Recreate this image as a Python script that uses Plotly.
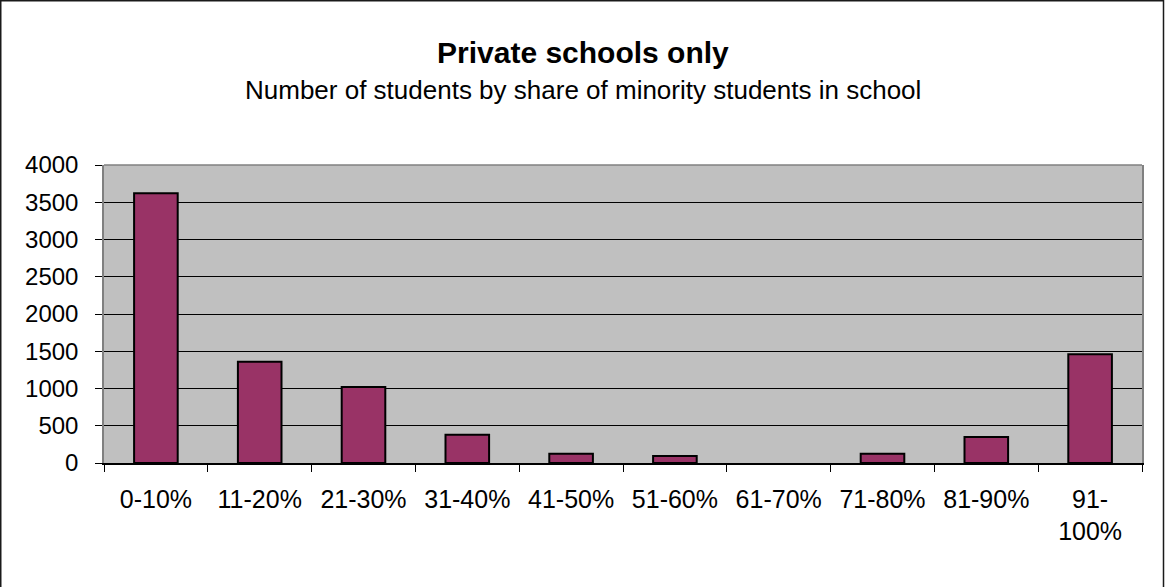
import plotly.graph_objects as go

categories = ["0-10%", "11-20%", "21-30%", "31-40%", "41-50%", "51-60%",
              "61-70%", "71-80%", "81-90%", "91-<br>100%"]
students = [3620, 1360, 1020, 380, 125, 95, 0, 125, 350, 1460]
y_ticks = [0, 500, 1000, 1500, 2000, 2500, 3000, 3500, 4000]

W, H = 1166, 587
ML, MR, MT, MB = 104, 24, 165, 124
PW = W - ML - MR
PH = H - MT - MB

FONT = "Arial, Liberation Sans, sans-serif"

fig = go.Figure(go.Bar(
    x=categories, y=[v if v else None for v in students],
    marker=dict(color="#993366", line=dict(color="black", width=2)),
    hoverinfo="skip",
))

fig.update_layout(
    width=W, height=H,
    margin=dict(l=ML, r=MR, t=MT, b=MB),
    paper_bgcolor="white", plot_bgcolor="#C0C0C0",
    bargap=0.58, showlegend=False,
    font=dict(family=FONT, color="black"),
    annotations=[
        dict(text="<b>Private schools only</b>", xref="paper", yref="paper",
             x=0.5 + (W / 2 - ML - PW / 2) / PW, y=1 + (MT - 52) / PH,
             xanchor="center", yanchor="middle", showarrow=False,
             font=dict(size=30, family=FONT, color="black")),
        dict(text="Number of students by share of minority students in school",
             xref="paper", yref="paper",
             x=0.5 + (W / 2 - ML - PW / 2) / PW, y=1 + (MT - 90) / PH,
             xanchor="center", yanchor="middle", showarrow=False,
             font=dict(size=26, family=FONT, color="black")),
    ],
    shapes=[
        dict(type="line", xref="paper", yref="paper", x0=0, x1=1, y0=1, y1=1,
             line=dict(color="#808080", width=1.5), layer="above"),
        dict(type="rect", xref="paper", yref="paper",
             x0=(0.75 - ML) / PW, x1=(W - 2.5 - ML) / PW,
             y0=-(MB + 2) / PH, y1=1 + (MT - 0.75) / PH,
             line=dict(color="#1a1a1a", width=1.5), layer="above"),
    ],
)

fig.update_xaxes(
    type="category", tickson="boundaries", ticks="outside", ticklen=7,
    tickcolor="black", tickwidth=1,
    showline=True, linecolor="black", linewidth=1.5,
    showgrid=False, tickfont=dict(size=25, family=FONT, color="black"),
    ticklabelstandoff=13,
)
fig.update_yaxes(
    range=[0, 4000], tickvals=y_ticks, ticks="outside", ticklen=7,
    tickcolor="black", tickwidth=1,
    showline=True, linecolor="#808080", linewidth=1.5, mirror=True,
    showgrid=True, gridcolor="black", gridwidth=1, zeroline=False,
    tickfont=dict(size=24, family=FONT, color="black"),
    ticklabelstandoff=12,
)

fig.write_html(
    "out.html",
    config={"displayModeBar": False},
    post_script="document.body.style.margin='0';document.body.style.overflow='hidden';",
)
